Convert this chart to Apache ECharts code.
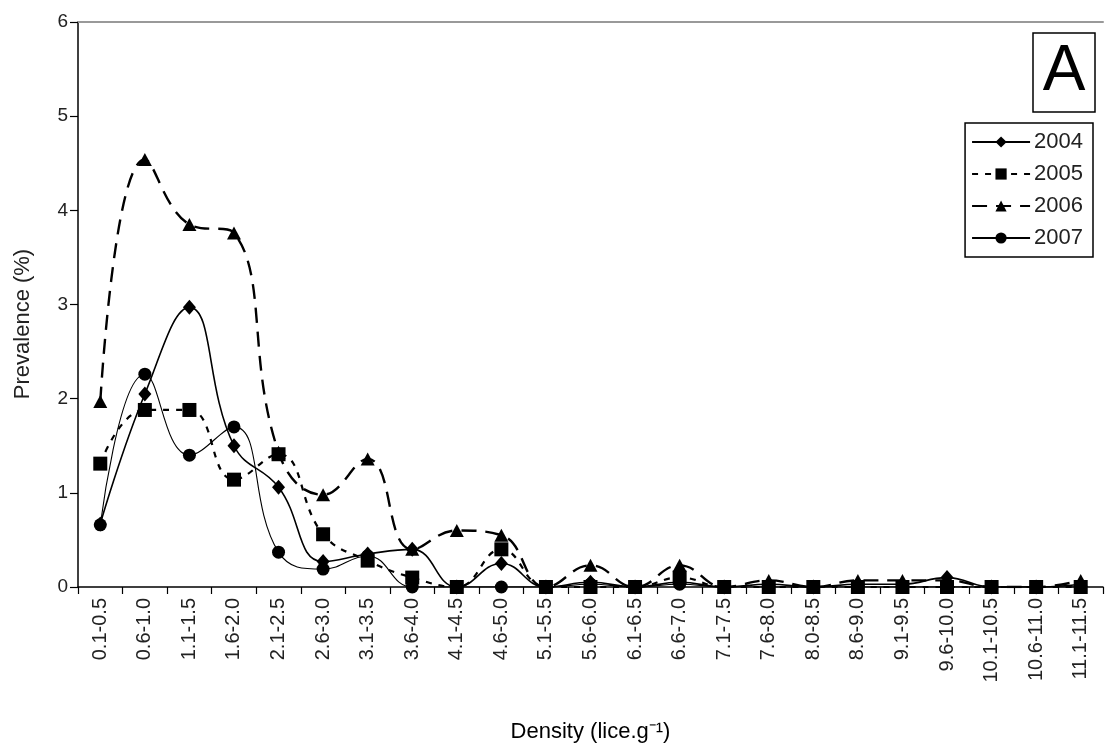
<!DOCTYPE html>
<html>
<head>
<meta charset="utf-8">
<script src="https://cdn.jsdelivr.net/npm/echarts@6/dist/echarts.min.js"></script>
<style>html,body{margin:0;padding:0;background:#fff;}#c{width:1105px;height:748px;}</style>
</head>
<body>
<div id="c"></div>
<script>
const categories = ["0.1-0.5","0.6-1.0","1.1-1.5","1.6-2.0","2.1-2.5","2.6-3.0","3.1-3.5","3.6-4.0","4.1-4.5","4.6-5.0","5.1-5.5","5.6-6.0","6.1-6.5","6.6-7.0","7.1-7.5","7.6-8.0","8.0-8.5","8.6-9.0","9.1-9.5","9.6-10.0","10.1-10.5","10.6-11.0","11.1-11.5"];
const s2004 = [0.67,2.05,2.97,1.50,1.06,0.27,0.35,0.40,0,0.25,0,0.05,0,0.05,0,0.03,0,0.03,0.03,0.10,0,0,0.03];
const s2005 = [1.31,1.88,1.88,1.14,1.41,0.56,0.28,0.10,0,0.40,0,0,0,0.10,0,0,0,0,0,0,0,0,0];
const s2006 = [1.97,4.54,3.85,3.76,1.43,0.98,1.36,0.40,0.60,0.55,0,0.23,0,0.23,0,0.07,0,0.07,0.07,0.07,0,0,0.07];
const s2007 = [0.66,2.26,1.40,1.70,0.37,0.19,0.33,0,0,0,0,0.03,0,0.03,0,0,0,0,0,0,0,0,0];
const yTicks = [0,1,2,3,4,5,6];

const chart = echarts.init(document.getElementById('c'), null, {renderer:'canvas'});
const font = 'Liberation Sans, Arial, sans-serif';
chart.setOption({
  animation:false,
  backgroundColor:'#fff',
  textStyle:{fontFamily:font,color:'#000'},
  grid:{left:78,right:2,top:22,bottom:160},
  legend:{
    orient:'vertical', right:12, top:123,
    borderColor:'#000', borderWidth:1.5, padding:[8,10,8,6],
    itemGap:10, itemWidth:58, itemHeight:14,
    textStyle:{fontSize:22,fontFamily:font,color:'#222',padding:[0,0,0,-1]},
    data:['2004','2005','2006','2007']
  },
  graphic:[
    {type:'rect',shape:{x:1033,y:33,width:62,height:79},style:{fill:'#fff',stroke:'#000',lineWidth:1.5}},
    {type:'text',x:1064,y:72,style:{text:'A',font:'64px '+font,fill:'#000',textAlign:'center',textVerticalAlign:'middle'}},
    {type:'text',x:23,y:324,rotation:Math.PI/2,style:{text:'Prevalence (%)',font:'22px '+font,fill:'#222',textAlign:'center',textVerticalAlign:'middle'}}
  ],
  xAxis:[{
    type:'category', data:categories, boundaryGap:true,
    name:'Density (lice.g\u207B\u00B9)', nameLocation:'middle', nameGap:134,
    nameTextStyle:{fontSize:22,fontFamily:font,color:'#000'},
    axisLine:{lineStyle:{color:'#000',width:1.5}},
    axisTick:{show:true,interval:0,length:7,lineStyle:{color:'#000',width:1.2}},
    axisLabel:{interval:0,rotate:90,fontSize:20,margin:11,color:'#222',fontFamily:font}
  },{
    type:'category', data:categories, position:'top',
    axisLine:{show:true,lineStyle:{color:'#999',width:2}},
    axisTick:{show:false}, axisLabel:{show:false}
  }],
  yAxis:{
    type:'value', min:yTicks[0], max:yTicks[yTicks.length-1], interval:1,
    axisLine:{show:true,lineStyle:{color:'#000',width:1.5}},
    axisTick:{show:true,length:8,lineStyle:{color:'#000',width:1.2}},
    axisLabel:{fontSize:19,margin:10,color:'#222',fontFamily:font},
    splitLine:{show:false}
  },
  series:[
    {name:'2004',type:'line',data:s2004,smooth:0.45,symbol:'diamond',symbolSize:[13,15],
     itemStyle:{color:'#000'},lineStyle:{color:'#000',width:1.6,type:'solid'}},
    {name:'2005',type:'line',data:s2005,smooth:0.45,symbol:'rect',symbolSize:14,
     itemStyle:{color:'#000'},lineStyle:{color:'#000',width:2.2,type:[6,7]}},
    {name:'2006',type:'line',data:s2006,smooth:0.45,symbol:'triangle',symbolSize:[14,13],
     itemStyle:{color:'#000'},lineStyle:{color:'#000',width:2.4,type:[15,9]}},
    {name:'2007',type:'line',data:s2007,smooth:0.45,symbol:'circle',symbolSize:13,
     itemStyle:{color:'#000'},lineStyle:{color:'#000',width:1.1,type:'solid'}}
  ]
});
</script>
</body>
</html>
